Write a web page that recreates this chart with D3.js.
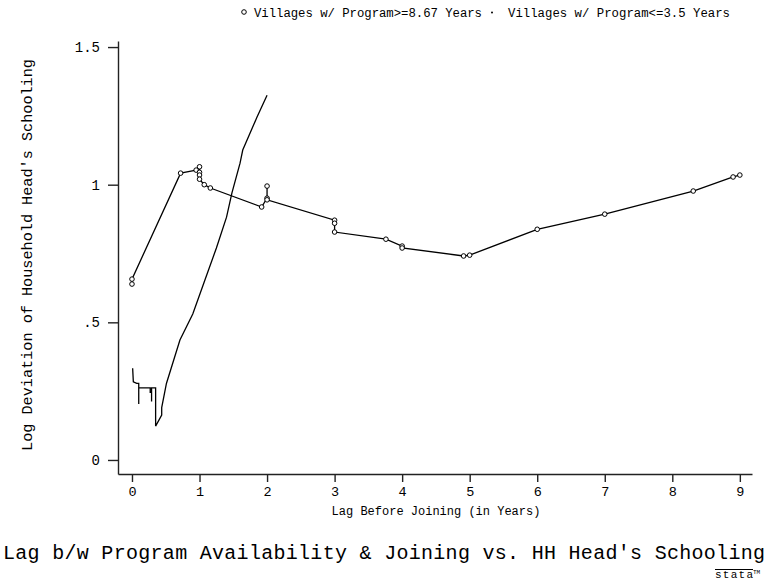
<!DOCTYPE html>
<html>
<head>
<meta charset="utf-8">
<script src="https://cdnjs.cloudflare.com/ajax/libs/d3/7.8.5/d3.min.js"></script>
<style>
  body { margin: 0; background: #fff; }
  text { font-family: "Liberation Mono", "DejaVu Sans Mono", monospace; fill: #000; }
</style>
</head>
<body>
<div id="chart"></div>
<script>
// villages where the program has been available >= 8.67 years (circles)
var longLag = [0, 0, 0.72, 0.95, 1.0, 1.0, 1.0, 1.0, 1.07, 1.16, 1.92, 2.0, 2.0, 2.0,
               3.0, 3.0, 3.0, 3.76, 4.0, 4.0, 4.91, 5.0, 6.0, 7.0, 8.31, 8.9, 9.0];
var longDev = [0.639, 0.657, 1.042, 1.053, 1.065, 1.045, 1.035, 1.02, 1.0, 0.988, 0.919, 0.951, 0.995, 0.945,
               0.871, 0.86, 0.828, 0.802, 0.777, 0.77, 0.741, 0.744, 0.838, 0.893, 0.977, 1.028, 1.035];

// villages where the program has been available <= 3.5 years (line)
var shortLag = [0.01, 0.02, 0.07, 0.1, 0.1, 0.1, 0.27, 0.27, 0.29, 0.29, 0.29, 0.35, 0.35, 0.44, 0.44,
                0.51, 0.71, 0.9, 1.08, 1.25, 1.4, 1.48, 1.6, 1.64, 1.85, 2.0];
var shortDev = [0.333, 0.284, 0.278, 0.278, 0.203, 0.262, 0.262, 0.246, 0.246, 0.212, 0.262, 0.262, 0.123, 0.163, 0.19,
                0.278, 0.436, 0.53, 0.654, 0.77, 0.882, 0.97, 1.078, 1.126, 1.245, 1.325];

var xTicks = [0, 1, 2, 3, 4, 5, 6, 7, 8, 9];
var yTicks = [0, 0.5, 1, 1.5];
var yTickLabels = ["0", ".5", "1", "1.5"];

var width = 768,
    height = 588;

var svg = d3.select("#chart")
    .append("svg")
    .attr("width", width)
    .attr("height", height);

var x = d3.scaleLinear().domain([-0.207, 9.18]).range([118, 752]);
var y = d3.scaleLinear().domain([-0.051, 1.522]).range([474, 41]);

/* axes */
var yAxis = d3.axisLeft(y)
    .tickValues(yTicks)
    .tickSize(10)
    .tickSizeOuter(0)
    .tickPadding(8)
    .tickFormat(function(d, i) { return yTickLabels[i]; });

var gy = svg.append("g")
    .attr("transform", "translate(118,0)")
    .call(yAxis);
gy.selectAll("text").style("font-size", "14px");

var xAxis = d3.axisBottom(x)
    .tickValues(xTicks)
    .tickSize(8)
    .tickSizeOuter(0)
    .tickPadding(4)
    .tickFormat(d3.format("d"));

var gx = svg.append("g")
    .attr("transform", "translate(0,474)")
    .call(xAxis);
gx.selectAll("text").style("font-size", "13.5px");

svg.selectAll(".domain, .tick line")
    .attr("stroke", "#222")
    .attr("stroke-width", 1.4);

/* axis titles */
svg.append("text")
    .attr("x", 436)
    .attr("y", 515)
    .attr("text-anchor", "middle")
    .style("font-size", "12px")
    .text("Lag Before Joining (in Years)");

svg.append("text")
    .attr("transform", "translate(32,255) rotate(-90)")
    .attr("text-anchor", "middle")
    .style("font-size", "15.2px")
    .text("Log Deviation of Household Head's Schooling");

svg.append("text")
    .attr("x", 384)
    .attr("y", 559)
    .attr("text-anchor", "middle")
    .attr("textLength", 762)
    .style("font-size", "20px")
    .text("Lag b/w Program Availability & Joining vs. HH Head's Schooling");

/* series */
var line = d3.line()
    .x(function(d) { return x(d[0]); })
    .y(function(d) { return y(d[1]); });

var longData = longLag.map(function(d, i) { return [d, longDev[i]]; });
var shortData = shortLag.map(function(d, i) { return [d, shortDev[i]]; });

svg.append("path")
    .datum(shortData)
    .attr("d", line)
    .attr("fill", "none")
    .attr("stroke", "#000")
    .attr("stroke-width", 1.3);

svg.append("path")
    .datum(longData)
    .attr("d", line)
    .attr("fill", "none")
    .attr("stroke", "#000")
    .attr("stroke-width", 1.3);

svg.append("g")
    .selectAll("circle")
    .data(longData)
    .enter().append("circle")
    .attr("cx", function(d) { return x(d[0]); })
    .attr("cy", function(d) { return y(d[1]); })
    .attr("r", 2.3)
    .attr("fill", "#fff")
    .attr("stroke", "#000")
    .attr("stroke-width", 1);

/* legend */
var legend = svg.append("g");
legend.append("circle")
    .attr("cx", 244)
    .attr("cy", 12)
    .attr("r", 2.3)
    .attr("fill", "#fff")
    .attr("stroke", "#000");
legend.append("text")
    .attr("x", 254)
    .attr("y", 16.5)
    .attr("textLength", 228)
    .style("font-size", "12.3px")
    .text("Villages w/ Program>=8.67 Years");
legend.append("circle")
    .attr("cx", 492)
    .attr("cy", 12.5)
    .attr("r", 1)
    .attr("fill", "#000");
legend.append("text")
    .attr("x", 508)
    .attr("y", 16.5)
    .attr("textLength", 222)
    .style("font-size", "12.3px")
    .text("Villages w/ Program<=3.5 Years");

/* stata logo */
var logo = svg.append("g");
logo.append("line")
    .attr("x1", 715).attr("x2", 753)
    .attr("y1", 569.5).attr("y2", 569.5)
    .attr("stroke", "#000")
    .attr("stroke-width", 1);
logo.append("text")
    .attr("x", 715)
    .attr("y", 578)
    .attr("textLength", 38)
    .style("font-size", "11px")
    .text("stata");
logo.append("text")
    .attr("x", 753)
    .attr("y", 574)
    .style("font-size", "6px")
    .text("TM");
</script>
</body>
</html>
